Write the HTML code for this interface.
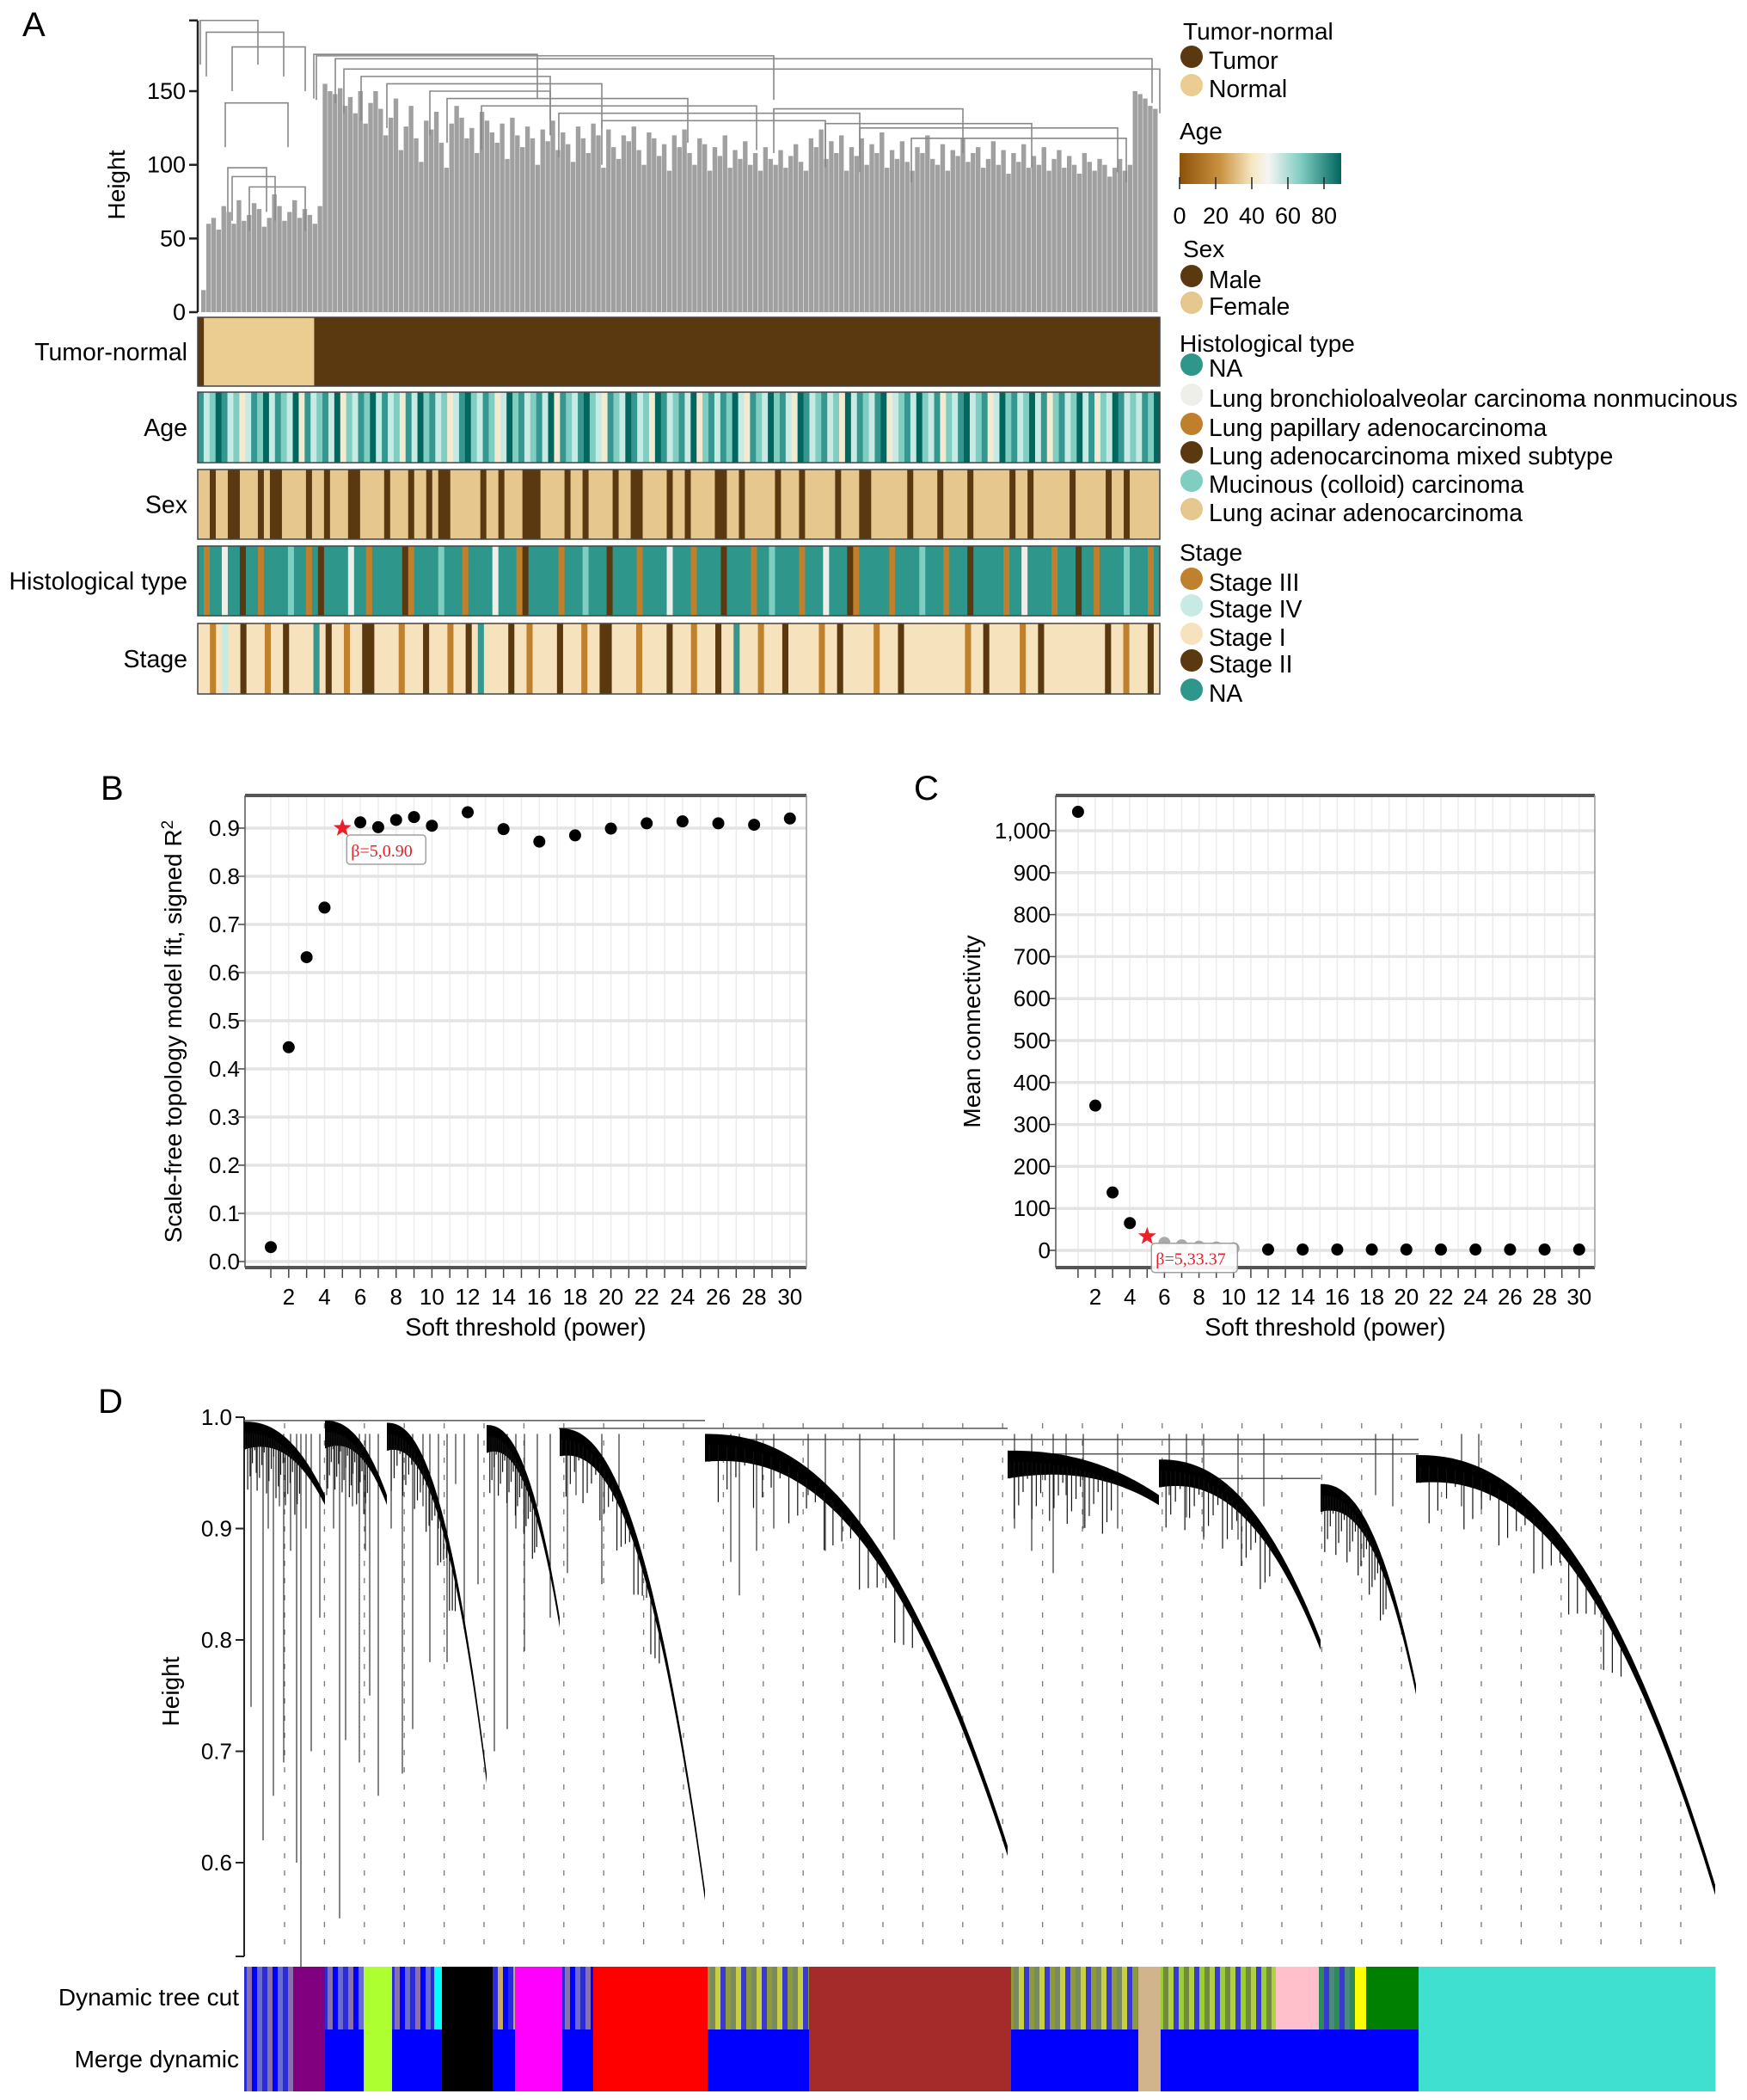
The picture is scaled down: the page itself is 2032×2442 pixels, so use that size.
<!DOCTYPE html>
<html><head><meta charset="utf-8"><style>
html,body{margin:0;padding:0;background:#fff}
svg{display:block;font-family:"Liberation Sans",sans-serif}
</style></head><body>
<svg id="fig" width="2032" height="2442" viewBox="0 0 2032 2442" xmlns="http://www.w3.org/2000/svg">
<g id="pA"></g>
<g id="pB"></g>
<g id="pC"></g>
<g id="pD"></g>
</svg>
<script>
// ---------- Panel A data ----------
const leafHeightsA = [15,60,64,56,72,68,60,76,62,66,74,70,58,64,80,72,62,68,76,64,70,66,60,72,
155,150,148,152,140,146,135,150,128,142,150,138,120,132,145,110,126,140,118,102,130,124,136,115,98,128,140,132,118,125,108,136,130,122,115,128,104,132,120,112,126,118,100,124,116,130,110,122,114,102,126,118,108,128,120,98,124,112,104,120,116,126,110,100,122,118,106,114,96,120,112,124,108,100,118,114,96,112,106,120,98,110,104,116,100,108,96,112,104,100,110,98,106,114,102,96,
118,112,124,104,116,108,120,96,112,106,118,100,114,108,122,98,110,104,116,102,96,112,108,120,104,100,114,96,110,106,118,102,108,112,98,104,116,100,110,94,108,102,114,98,106,100,112,96,104,110,98,106,100,94,108,102,96,104,100,92,98,104,96,100,150,148,145,140,138];
const tumorNormal = "TNNNNNNNNNNNNNNNNNNTTTTTTTTTTTTTTTTTTTTTTTTTTTTTTTTTTTTTTTTTTTTTTTTTTTTTTTTTTTTTTTTTTTTTTTTTTTTTTTTTTTTTTTTTTTTTTTTTTTTTTTTTTTTTTTTTTTTTTTTTTTTTTTTTTTTTTTTTT";
const ageBins = "dbcedbcabdcebdcbeadbcdbeacbdcebdbcadbecdbcabdecbdcabecdbcdbeadcbdecbadcbedbcaedbcdbeacdbdcebadcbecdbaedbcdbcaebdcbdeabcdbecbdacbdebcdabecdbcebdacdbcebdacbedbcbdce";
const sexCat = "FFMFFMMFFFMFMMFFFFMFFMFFFMMFFFFMFFFMFFMFMMFFFFFMFFMFFFMMMFFFFMFFMFFFFMFFMMFFFFMFFMFFFFMMFFMFFFFFMFFFMFFFFFMFFFMMFFFFFFMFFFFMFFFFMFFFFFFMFFMFFFFFFMFFFFFMFFMFFFFF";
const histCat = "NpNNbNNmNNpNNNNcNNpNmNNNNbNNpNNNNNmpNNNNcNNNpNNNNbNNNpmNNNNNpNNNcNNNmNNNNpNNNNbNNNpNNNNmNNNNpNNcNNNNpNNNbNNNmpNNNNNpNNNNcNNNpNNNmNNNNNpNNbNNNNpNNNmNNpNNNNcNNNpN";
const stageCat = "IIpIeIIkIIIpIIkIIIIqIkIIpIIkkIIIIpIIIkIIIpIIkIqIIIIkIIpIIIIkIIIpIIkkIIIIpIIIIkIIIpIIIkIIqIIIpIIIkIIIIIpIIkIIIIIpIIIkIIIIIIIIIIpIIkIIIIIpIIkIIIIIIIIIIkIIpIIIkI";
// ---------- Panel B / C data ----------
const powers = [1,2,3,4,5,6,7,8,9,10,12,14,16,18,20,22,24,26,28,30];
const r2Values = [0.03,0.445,0.632,0.735,0.90,0.912,0.902,0.917,0.923,0.905,0.933,0.898,0.872,0.885,0.899,0.910,0.914,0.910,0.907,0.920];
const meanK = [1045,345,138,65,33.37,18,12,9,7,5,2,2,2,2,2,2,2,2,2,2];
const bTicks = [0,0.1,0.2,0.3,0.4,0.5,0.6,0.7,0.8,0.9];
const cTicks = [0,100,200,300,400,500,600,700,800,900,1000];
const xTickLabels = [2,4,6,8,10,12,14,16,18,20,22,24,26,28,30];
const chosenPower = 5;
// ---------- Panel D data ----------
const dTicks = [0.6,0.7,0.8,0.9,1.0];
const modStart = [284,378,450,566,651,820,1172,1348,1536,1647];
const modEnd   = [378,450,566,651,820,1172,1348,1536,1647,1995];
const modTop   = [0.996,0.997,0.995,0.993,0.99,0.985,0.97,0.962,0.94,0.966];
const modMin   = [0.93,0.93,0.68,0.82,0.575,0.615,0.93,0.80,0.76,0.58];
const dropX = [292,298,306,312,318,325,330,338,345,350,356,362,372,380,388,395,402,410,418,425,430,440,455,468,480,492,500,510,520,530,540,556,575,590,600,610,625,640,660,670,700,720,850,860,880,900,940,960,1000,1040,1180,1200,1225,1240,1260,1300,1360,1380,1400,1440,1470,1600,1620,1700,1720];
const dropH = [0.74,0.95,0.62,0.9,0.66,0.92,0.69,0.88,0.60,0.50,0.9,0.70,0.82,0.93,0.9,0.55,0.71,0.92,0.69,0.88,0.75,0.66,0.9,0.68,0.72,0.92,0.78,0.9,0.78,0.94,0.81,0.85,0.70,0.72,0.9,0.79,0.92,0.82,0.86,0.93,0.85,0.92,0.87,0.84,0.88,0.90,0.93,0.88,0.90,0.89,0.9,0.88,0.86,0.93,0.90,0.90,0.93,0.91,0.89,0.89,0.92,0.93,0.92,0.92,0.94];
const treeCutStart = [284,341,378,423,456,505,514,573,599,654,690,823,941,1176,1324,1350,1484,1534,1576,1589,1650];
const treeCutColor = ["mixblue","purple","mixblue","greenyellow","mixblue","cyan","black","mixtan","magenta","mixblue","red","mixolive","brown","mixolive","tan","mixgy","pink","mixteal","yellow","green","turquoise"];
const mergeStart = [284,341,378,423,456,514,573,599,654,690,823,941,1176,1324,1350,1650];
const mergeColor = ["mixblue","purple","blue","greenyellow","blue","black","blue","magenta","blue","red","blue","brown","blue","tan","blue","turquoise"];

const NS="http://www.w3.org/2000/svg";
function mk(parent,tag,attrs,text){const e=document.createElementNS(NS,tag);for(const k in attrs)e.setAttribute(k,attrs[k]);if(text!==undefined)e.textContent=text;parent.appendChild(e);return e;}

// ================= PANEL A =================
const A=document.getElementById('pA');
let t=mk(A,'text',{x:26,y:42,'font-size':40},'A');

const ax0=230, ax1=1349, ay0=363;
const ayScale=(363-106)/150;
const ay=h=>ay0-h*ayScale;
const gDen=mk(A,'g',{});

const lw=(ax1-ax0-6)/leafHeightsA.length;
leafHeightsA.forEach((h,i)=>{
  const r=mk(gDen,'rect',{x:ax0+4+i*lw,y:ay(h),width:lw-0.5,height:ay0-ay(h),fill:'#a0a0a0'});
  
});
const merges=[[233,300,198],[240,330,190],[270,355,180],[262,335,142],[265,310,98],[270,320,92],[290,355,85],[365,625,175],[368,900,174],[390,1340,172],[400,1349,165],[420,640,160],[450,700,155],[500,640,150],[520,800,145],[560,880,140],[650,1000,135],[700,960,130],[900,1120,138],[960,1200,128],[1000,1300,125],[1060,1310,118]];
merges.forEach(m=>{
  const p=mk(gDen,'path',{d:`M${m[0]},${ay(m[2]-30)}V${ay(m[2])}H${m[1]}V${ay(m[2]-30)}`,fill:'none',stroke:'#888','stroke-width':1.6});
  
});
const gAx=mk(A,'g',{});

mk(gAx,'line',{x1:ax0,x2:ax0,y1:ay(198),y2:ay0,stroke:'#222','stroke-width':2.5});
[0,50,100,150].forEach(v=>{
  mk(gAx,'line',{x1:ax0-10,x2:ax0,y1:ay(v),y2:ay(v),stroke:'#222','stroke-width':2.5});
  mk(gAx,'text',{x:ax0-14,y:ay(v)+9,'font-size':27,'text-anchor':'end'},v);
});
mk(gAx,'line',{x1:ax0-10,x2:ax0,y1:ay(198),y2:ay(198),stroke:'#222','stroke-width':2.5});
t=mk(A,'text',{x:145,y:215,'font-size':28,'text-anchor':'middle',transform:'rotate(-90 145 215)'},'Height');


const ageCol={a:'#f3ead2',b:'#c7eae5',c:'#80cdc1',d:'#35978f',e:'#01665e'};
const sexCol={M:'#5a3810',F:'#e6c88e'};
const histCol={N:'#2e968b',b:'#efefe9',p:'#bf7f2c',m:'#5a3810',c:'#80cdc1',a:'#e6c88e'};
const stageCol={I:'#f6e3bd',e:'#c7eae5',k:'#5a3810',p:'#bf812d',q:'#35978f'};
const tnCol={T:'#5a3810',N:'#ebcd92'};
const tracks=[["Tumor-normal",369,449,tumorNormal,tnCol],["Age",456,538,ageBins,ageCol],["Sex",546,627,sexCat,sexCol],["Histological type",635,716,histCat,histCol],["Stage",725,807,stageCat,stageCol]];
tracks.forEach(tr=>{
  const g=mk(A,'g',{});
  
  const s=tr[3], w=(ax1-ax0)/s.length;
  for(let i=0;i<s.length;i++){
    mk(g,'rect',{x:ax0+i*w,y:tr[1],width:w+0.6,height:tr[2]-tr[1],fill:tr[4][s[i]]});
  }
  mk(g,'rect',{x:ax0,y:tr[1],width:ax1-ax0,height:tr[2]-tr[1],fill:'none',stroke:'#444','stroke-width':1.5});
  const l=mk(A,'text',{x:218,y:(tr[1]+tr[2])/2+10,'font-size':28.5,'text-anchor':'end'},tr[0]);
  
});
const gL=mk(A,'g',{});

const legItems=[['t','Tumor-normal',36],['i','Tumor',70,'#5a3810'],['i','Normal',103,'#ebcd92'],['t','Age',152],
['t','Sex',289],['i','Male',325,'#5a3810'],['i','Female',356,'#e6c88e'],['t','Histological type',399],
['i','NA',428,'#2e968b'],['i','Lung bronchioloalveolar carcinoma nonmucinous',463,'#efefe9'],['i','Lung papillary adenocarcinoma',497,'#bf7f2c'],['i','Lung adenocarcinoma mixed subtype',530,'#5a3810'],['i','Mucinous (colloid) carcinoma',563,'#80cdc1'],['i','Lung acinar adenocarcinoma',596,'#e6c88e'],
['t','Stage',642],['i','Stage III',677,'#bf812d'],['i','Stage IV',708,'#c7eae5'],['i','Stage I',741,'#f6e3bd'],['i','Stage II',772,'#5a3810'],['i','NA',806,'#2e968b']];
legItems.forEach(it=>{
  if(it[0]==='t'){const e=mk(gL,'text',{x:it[1]==='Tumor-normal'||it[1]==='Sex'?1376:1372,y:it[2]+10,'font-size':28},it[1]);}
  else{const c=mk(gL,'circle',{cx:1386,cy:it[2]-4,r:13,fill:it[3]});
    const e=mk(gL,'text',{x:1406,y:it[2]+10,'font-size':28.3},it[1]);}
});
const defs=mk(document.getElementById('fig'),'defs',{});
const lg=mk(defs,'linearGradient',{id:'ageGrad',x1:0,x2:1,y1:0,y2:0});
[['0','#8c510a'],['0.25','#c9913f'],['0.45','#f6e8c3'],['0.55','#f5f5f5'],['0.75','#80cdc1'],['1','#01665e']].forEach(s=>mk(lg,'stop',{offset:s[0],'stop-color':s[1]}));
const cb=mk(gL,'rect',{x:1372,y:178,width:188,height:36,fill:'url(#ageGrad)'});

[0,20,40,60,80].forEach((v,i)=>{const x=1372+v*2.1;
  mk(gL,'line',{x1:x,x2:x,y1:206,y2:220,stroke:'#222','stroke-width':1.5});
  mk(gL,'text',{x:x,y:260,'font-size':27,'text-anchor':'middle'},v);});

// ================= PANEL B & C =================
function scatterPanel(G,letter,lx,fx0,fx1,fy0,fy1,xFn,yFn,ticks,tickFmt,vals,ytitle,ytx,labelText,lbl){
  let e=mk(G,'text',{x:lx,y:930,'font-size':40},letter);
  
  const gg=mk(G,'g',{});
  for(let p=1;p<=30;p++){const x=xFn(p);mk(gg,'line',{x1:x,x2:x,y1:fy0,y2:fy1,stroke:'#ececec','stroke-width':1.5});
    mk(gg,'line',{x1:x,x2:x,y1:fy1,y2:fy1+12,stroke:'#444','stroke-width':1.5});}
  ticks.forEach(v=>{const y=yFn(v);mk(gg,'line',{x1:fx0,x2:fx1,y1:y,y2:y,stroke:'#e4e4e4','stroke-width':3.5});
    mk(gg,'line',{x1:fx0-8,x2:fx0,y1:y,y2:y,stroke:'#444','stroke-width':1.5});
    const tl=mk(G,'text',{x:fx0-6,y:y+9,'font-size':26,'text-anchor':'end'},tickFmt(v));});
  mk(G,'line',{x1:fx0,x2:fx1,y1:fy0,y2:fy0,stroke:'#555','stroke-width':4});
  mk(G,'line',{x1:fx0,x2:fx1,y1:fy1,y2:fy1,stroke:'#555','stroke-width':4});
  mk(G,'line',{x1:fx0,x2:fx0,y1:fy0,y2:fy1,stroke:'#555','stroke-width':1.5});
  mk(G,'line',{x1:fx1,x2:fx1,y1:fy0,y2:fy1,stroke:'#999','stroke-width':1.5});
  xTickLabels.forEach(v=>{const tl=mk(G,'text',{x:xFn(v),y:1517,'font-size':26,'text-anchor':'middle'},v);});
  e=mk(G,'text',{x:(fx0+fx1)/2,y:1553,'font-size':28.5,'text-anchor':'middle'},'Soft threshold (power)');
  
  e=mk(G,'text',{x:ytx,y:(fy0+fy1)/2,'font-size':28,'text-anchor':'middle',transform:`rotate(-90 ${ytx} ${(fy0+fy1)/2})`});
  e.innerHTML=ytitle;
  const gp=mk(G,'g',{});
  powers.forEach((p,i)=>{
    if(p===chosenPower) return;
    const c=mk(gp,'circle',{cx:xFn(p),cy:yFn(vals[i]),r:7,fill:(letter==='C'&&p>5&&p<=10)?'#aaa':'#000'});
    
  });
  const i5=powers.indexOf(chosenPower);const sx=xFn(chosenPower), sy=yFn(vals[i5]);
  const bx=mk(G,'rect',{x:sx+5,y:sy+8,width:lbl[0],height:34,rx:4,fill:'#fff',stroke:'#999','stroke-width':1.5,opacity:0.92});
  
  e=mk(G,'text',{x:sx+10,y:sy+33,'font-size':20,fill:'#e8202a','font-family':'Liberation Serif'},labelText);
  
  const st=[];for(let k=0;k<10;k++){const r=k%2?4.5:11;const a=-Math.PI/2+k*Math.PI/5;st.push((sx+r*Math.cos(a)).toFixed(1)+','+(sy+r*Math.sin(a)).toFixed(1));}
  const s=mk(G,'polygon',{points:st.join(' '),fill:'#e8202a'});
  
}
const xB=p=>315+(p-1)*20.82, yB=v=>1467-v*560;
scatterPanel(document.getElementById('pB'),'B',117,285,938,925,1474,xB,yB,bTicks,v=>v.toFixed(1),r2Values,'Scale-free topology model fit, signed R<tspan dy="-10" font-size="19">2</tspan>',211,'β=5,'+r2Values[4].toFixed(2),[92]);
const xC=p=>1274+(p-2)*20.1, yC=v=>1454-v*0.488;
scatterPanel(document.getElementById('pC'),'C',1063,1228,1855,925,1474,xC,yC,cTicks,v=>v.toLocaleString('en-US'),meanK,'Mean connectivity',1140,'β=5,'+meanK[4].toFixed(2),[100]);

// ================= PANEL D =================
const D=document.getElementById('pD');
t=mk(D,'text',{x:114,y:1643,'font-size':40},'D');
const yD=h=>1648+(1.0-h)*1295;
const gAxD=mk(D,'g',{});
mk(gAxD,'line',{x1:284,x2:284,y1:yD(1.0),y2:2275,stroke:'#222','stroke-width':2});
dTicks.forEach(v=>{mk(gAxD,'line',{x1:274,x2:284,y1:yD(v),y2:yD(v),stroke:'#222','stroke-width':2});
  mk(gAxD,'text',{x:270,y:yD(v)+9,'font-size':26,'text-anchor':'end'},v.toFixed(1));});
mk(gAxD,'line',{x1:274,x2:284,y1:2275,y2:2275,stroke:'#222','stroke-width':2});
t=mk(D,'text',{x:208,y:1967,'font-size':28,'text-anchor':'middle',transform:'rotate(-90 208 1967)'},'Height');

const gDash=mk(D,'g',{});
for(let x=331;x<1990;x+=46.4){mk(gDash,'line',{x1:x,x2:x,y1:1655,y2:2275,stroke:'#777','stroke-width':1.3,'stroke-dasharray':'6 14'});}
const gTree=mk(D,'g',{});
[[284,820,0.997],[650,1172,0.99],[820,1650,0.98],[1172,1650,0.967],[1348,1536,0.945]].forEach(m=>{
  mk(gTree,'line',{x1:m[0],x2:m[1],y1:yD(m[2]),y2:yD(m[2]),stroke:'#555','stroke-width':1.5});});
dropX.forEach((x,i)=>{
  const l=mk(gTree,'line',{x1:x,x2:x,y1:yD(0.985),y2:yD(dropH[i]),stroke:'#333','stroke-width':1.2});
  
});
modStart.forEach((s,i)=>{
  const e=modEnd[i], top=modTop[i], mn=modMin[i];
  const N=50, up=[], lo=[];
  for(let k=0;k<=N;k++){const f=k/N;const x=s+(e-s)*f;
    const h=top-(top-mn)*Math.pow(f,2.3);
    up.push(x.toFixed(1)+','+yD(h).toFixed(1));
    lo.push(x.toFixed(1)+','+yD(h-0.009-0.016*Math.pow(1-f,1.3)).toFixed(1));}
  const p=mk(gTree,'polygon',{points:up.concat(lo.reverse()).join(' '),fill:'#000'});
  
  for(let k=0;k<24;k++){const f=(k+0.5)/24*0.7;const x=s+(e-s)*f;const h=top-(top-mn)*Math.pow(f,2.3)-0.01;
    mk(gTree,'line',{x1:x,x2:x,y1:yD(h),y2:yD(h-0.015-0.012*((k*7)%4)),stroke:'#111','stroke-width':1.2});}
});
const mixPal={mixblue:['#2b2bd8','#6a6acf','#0000ff','#8a70a8'],mixtan:['#2b2bd8','#c8a86a','#0000ff'],mixolive:['#8c9a3c','#3a3ad0','#c8d040','#7a8a60'],mixgy:['#9acd32','#3a3ad0','#b0d040','#708a40'],mixteal:['#2e8b57','#3a3ad0','#4a8a80']};
const solid={purple:'#800080',greenyellow:'#adff2f',cyan:'#00ffff',black:'#000',magenta:'#ff00ff',red:'#ff0000',brown:'#a52a2a',tan:'#d2b48c',pink:'#ffc0cb',yellow:'#ffff00',green:'#008000',turquoise:'#40e0d0',blue:'#0000ff'};
function colorBar(starts,cols,y0,y1,name){
  const g=mk(D,'g',{});
  starts.forEach((s,i)=>{const e=i+1<starts.length?starts[i+1]:1995;const c=cols[i];
    if(solid[c]) mk(g,'rect',{x:s,y:y0,width:e-s+0.5,height:y1-y0,fill:solid[c]});
    else{const pal=mixPal[c];let k=0;for(let x=s;x<e;x+=3){mk(g,'rect',{x:x,y:y0,width:Math.min(3,e-x)+0.3,height:y1-y0,fill:pal[(k*3+(k>>1))%pal.length]});k++;}}
  });
}
colorBar(treeCutStart,treeCutColor,2287,2360,'dynamic-tree-cut-bar');
colorBar(mergeStart,mergeColor,2360,2432,'merge-dynamic-bar');
t=mk(D,'text',{x:278,y:2332,'font-size':28,'text-anchor':'end'},'Dynamic tree cut');
t=mk(D,'text',{x:278,y:2404,'font-size':28,'text-anchor':'end'},'Merge dynamic');
</script>
</body></html>
